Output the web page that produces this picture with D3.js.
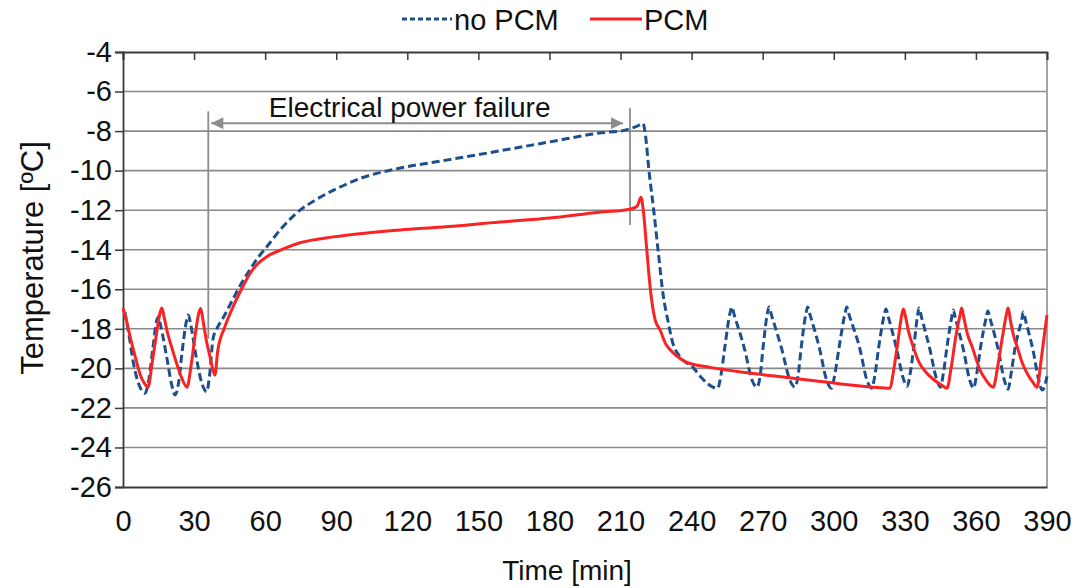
<!DOCTYPE html>
<html>
<head>
<meta charset="utf-8">
<script src="https://cdn.jsdelivr.net/npm/d3@7"></script>
<style>
  html, body { margin: 0; padding: 0; background: #fff; }
  svg { display: block; font-family: "Liberation Sans", Arial, sans-serif; }
</style>
</head>
<body>
<svg id="chart" width="1076" height="588"></svg>
<script>
// ---------------- data ----------------
const seriesNames = ["no PCM", "PCM"];
const xTicks = [0, 30, 60, 90, 120, 150, 180, 210, 240, 270, 300, 330, 360, 390];
const yTicks = [-4, -6, -8, -10, -12, -14, -16, -18, -20, -22, -24, -26];

// no PCM : [time (min), temperature (°C)]
const noPCM = [
  [0.8,-17.15],[2.5,-18.3],[4.5,-19.8],[7,-20.9],[9.3,-21.26],[11,-20.5],[12.6,-19.0],[14.2,-17.6],[14.9,-17.4],[16,-17.9],
  [18.4,-19.4],[20.5,-20.8],[22,-21.35],[23.5,-20.7],[25,-19.1],[26.8,-17.6],[27.6,-17.3],[28.6,-17.8],[31,-19.5],
  [33.4,-20.8],[35.3,-21.18],[36.6,-20.3],[38,-18.5],[40,-17.9],[42,-17.5],[46.4,-16.5],[50,-15.7],[53.6,-15.0],
  [57,-14.4],[60.7,-13.85],[67,-12.9],[74.7,-12.0],[81,-11.5],[88.7,-11.0],[100,-10.4],[117,-9.87],[135,-9.5],
  [159,-9.0],[180,-8.55],[201,-8.1],[212,-7.95],[217,-7.75],[219.5,-7.62],[220.5,-8.2],[222,-10.0],[224,-12.0],
  [226,-14.2],[228,-16.3],[230,-17.6],[232,-18.7],[235,-19.4],[240.6,-19.95],[244,-20.45],[246.5,-20.75],[249,-20.95],
  [251,-21.0],[252.3,-20.4],[254,-18.95],[256.2,-17.2],[257,-16.9],[258,-17.3],[262.3,-19.0],[265.5,-20.6],[267.6,-20.95],
  [268.9,-20.4],[270.2,-18.9],[272,-17.2],[272.7,-16.9],[273.7,-17.3],[278,-19.0],[281.5,-20.6],[283.6,-20.95],
  [284.9,-20.4],[286.3,-18.9],[288.3,-17.2],[289,-16.9],[290,-17.3],[294,-19.0],[297,-20.6],[299,-21.0],
  [300.3,-20.4],[302.3,-18.9],[304.8,-17.2],[305.5,-16.9],[306.5,-17.3],[311,-19.0],[314,-20.6],[316,-21.0],
  [317.3,-20.4],[319,-18.9],[321.3,-17.3],[322,-17.0],[323,-17.4],[326.5,-19.0],[329.3,-20.5],[331,-20.9],
  [332.2,-20.3],[333.8,-18.9],[335.4,-17.3],[336,-16.95],[337,-17.4],[340.5,-19.0],[343.3,-20.5],[345,-20.95],
  [346.2,-20.3],[347.8,-18.9],[349.8,-17.4],[350.4,-17.05],[351.4,-17.5],[354.8,-19.1],[357.4,-20.6],[359,-21.0],
  [360.3,-20.3],[362,-18.9],[364.4,-17.4],[365,-17.1],[366,-17.5],[369.5,-19.1],[372,-20.6],[373.6,-21.05],
  [374.8,-20.3],[376.6,-18.9],[379.4,-17.5],[380,-17.15],[381,-17.6],[384.3,-19.2],[386.5,-20.6],[388,-21.1],
  [389,-20.9],[390,-20.4]
];

// PCM : [time (min), temperature (°C)]
const withPCM = [
  [0,-16.95],[1.5,-17.6],[3,-18.4],[4.5,-19.1],[6,-19.8],[7.5,-20.4],[9,-20.75],[10.6,-20.95],[12.2,-19.8],[14.2,-18.2],
  [15.6,-17.2],[16.4,-16.95],[17.5,-17.5],[19,-18.3],[20.6,-18.95],[22.5,-19.7],[24.5,-20.4],[27,-20.95],[28.8,-19.8],
  [30.6,-18.2],[32,-17.2],[32.8,-16.97],[33.8,-17.6],[35.2,-18.6],[36.7,-19.4],[38,-20.1],[38.8,-20.34],[40,-19.1],
  [43,-17.9],[46.4,-16.9],[50,-16.0],[53.6,-15.2],[57,-14.7],[60.7,-14.35],[67.7,-13.96],[74.7,-13.65],[88.7,-13.35],
  [103,-13.15],[117,-13.0],[135,-12.85],[159,-12.6],[180,-12.4],[201,-12.1],[214,-11.95],[217,-11.8],[218.6,-11.35],
  [219.6,-12.0],[221,-13.9],[222.5,-15.9],[224.6,-17.55],[226.7,-18.06],[229,-18.75],[231,-19.07],[234,-19.4],
  [238,-19.7],[247.8,-19.95],[261.7,-20.2],[276,-20.4],[290,-20.6],[304,-20.8],[316.6,-20.95],[323.8,-21.0],
  [325,-20.3],[327,-18.7],[328.7,-17.3],[329.4,-17.0],[330.3,-17.4],[331.5,-18.1],[333.5,-18.9],[336,-19.7],
  [339.3,-20.25],[342.5,-20.6],[345,-20.8],[347.8,-21.0],[349.5,-20.0],[351.5,-18.4],[353.3,-17.3],[354,-16.95],
  [355,-17.5],[356.5,-18.3],[358.4,-18.9],[360,-19.5],[361.8,-20.1],[364,-20.55],[367.3,-20.95],[369.2,-19.9],
  [371.2,-18.4],[373,-17.2],[373.6,-16.95],[374.6,-17.6],[376,-18.4],[377.4,-18.9],[379.5,-19.7],[381.6,-20.25],
  [384,-20.7],[385.8,-20.95],[387.5,-19.6],[389,-18.2],[390,-17.3]
];

// annotation: power failure window
const failureLabel = "Electrical power failure";
const failureStart = 36;     // min
const failureEnd = 214;      // min
const failureTextAt = 121;   // min (label centre)
const failureArrowLevel = -7.6;
const failureTextLevel = -7.3;
const failureLineTops = [-7.0, -6.85];
const failureLineBottoms = [-18.5, -12.75];

const xTitle = "Time [min]";
const yTitle = "Temperature [ºC]";

// ---------------- layout ----------------
const W = 1076, H = 588;
const margin = { left: 123, right: 29, top: 52, bottom: 101 };
const innerW = W - margin.left - margin.right;
const innerH = H - margin.top - margin.bottom;

const svg = d3.select("#chart");
const g = svg.append("g").attr("transform", `translate(${margin.left},${margin.top})`);

const x = d3.scaleLinear().domain([0, 390]).range([0, innerW]);
const y = d3.scaleLinear().domain([-26, -4]).range([innerH, 0]);

const FONT = 28;
const gridColor = "#8a8a8a";
const axisColor = "#3a3a3a";
const blue = "#1d4f8f";
const red = "#fa2323";

// horizontal gridlines
g.append("g")
  .selectAll("line")
  .data(yTicks.filter(d => d !== -26 && d !== -4))
  .join("line")
  .attr("x1", 0).attr("x2", innerW)
  .attr("y1", d => y(d)).attr("y2", d => y(d))
  .attr("stroke", gridColor).attr("stroke-width", 1.6);

// right border
g.append("line")
  .attr("x1", innerW).attr("x2", innerW).attr("y1", 0).attr("y2", innerH)
  .attr("stroke", "#9a9a9a").attr("stroke-width", 1.8);

// top axis with inward ticks
const topAxis = d3.axisTop(x).tickValues(xTicks).tickSize(-8).tickFormat("");
const gTop = g.append("g").call(topAxis);
gTop.select(".domain").attr("stroke", axisColor).attr("stroke-width", 1.8);
gTop.selectAll(".tick line").attr("stroke", axisColor).attr("stroke-width", 1.5);

// bottom axis
const bottomAxis = d3.axisBottom(x).tickValues(xTicks).tickSize(0).tickPadding(23).tickFormat(d3.format("d"));
const gBot = g.append("g").attr("transform", `translate(0,${innerH})`).call(bottomAxis);
gBot.select(".domain").attr("stroke", axisColor).attr("stroke-width", 1.8);
gBot.selectAll("text").attr("font-size", 29).attr("fill", "#111").attr("font-family", "Liberation Sans, Arial, sans-serif");

// left axis
const leftAxis = d3.axisLeft(y).tickValues(yTicks).tickSize(8).tickPadding(3).tickFormat(d => String(d));
const gLeft = g.append("g").call(leftAxis);
gLeft.select(".domain").attr("stroke", axisColor).attr("stroke-width", 1.8);
gLeft.selectAll(".tick line").attr("stroke", axisColor).attr("stroke-width", 1.5);
gLeft.selectAll("text").attr("font-size", 29).attr("fill", "#111").attr("font-family", "Liberation Sans, Arial, sans-serif");

// annotation
const annColor = "#8c8c8c";
const defs = svg.append("defs");
defs.append("marker")
  .attr("id", "arrowEnd").attr("viewBox", "0 0 10 10").attr("refX", 10).attr("refY", 5)
  .attr("markerWidth", 7).attr("markerHeight", 6).attr("markerUnits", "strokeWidth").attr("orient", "auto-start-reverse")
  .append("path").attr("d", "M0,0 L10,5 L0,10 z").attr("fill", annColor);

const ann = g.append("g");
ann.selectAll("line.vline")
  .data([failureStart, failureEnd])
  .join("line").attr("class", "vline")
  .attr("x1", d => x(d)).attr("x2", d => x(d))
  .attr("y1", (d, i) => y(failureLineTops[i])).attr("y2", (d, i) => y(failureLineBottoms[i]))
  .attr("stroke", annColor).attr("stroke-width", 1.8);
ann.append("line")
  .attr("x1", x(failureStart) + 3).attr("x2", x(failureEnd) - 7)
  .attr("y1", y(failureArrowLevel)).attr("y2", y(failureArrowLevel))
  .attr("stroke", annColor).attr("stroke-width", 2)
  .attr("marker-start", "url(#arrowEnd)").attr("marker-end", "url(#arrowEnd)");
ann.append("text")
  .attr("x", x(failureTextAt))
  .attr("y", y(failureTextLevel))
  .attr("text-anchor", "middle")
  .attr("font-size", FONT).attr("fill", "#111")
  .text(failureLabel);

// lines
const line = d3.line().x(d => x(d[0])).y(d => y(d[1])).curve(d3.curveMonotoneX);
g.append("path").datum(noPCM)
  .attr("d", line).attr("fill", "none")
  .attr("stroke", blue).attr("stroke-width", 3).attr("stroke-dasharray", "8,4");
g.append("path").datum(withPCM)
  .attr("d", line).attr("fill", "none")
  .attr("stroke", red).attr("stroke-width", 3);

// axis titles
svg.append("text")
  .attr("x", 567).attr("y", 580)
  .attr("text-anchor", "middle").attr("font-size", FONT).attr("fill", "#111")
  .text(xTitle);
svg.append("text")
  .attr("transform", `translate(43,258) rotate(-90)`)
  .attr("text-anchor", "middle").attr("font-size", 31).attr("fill", "#111")
  .text(yTitle);

// legend
const legend = svg.append("g");
const legendItems = [
  { name: seriesNames[0], color: blue, dash: "5,3", x0: 402, x1: 452 },
  { name: seriesNames[1], color: red, dash: null, x0: 590, x1: 642 }
];
legendItems.forEach(it => {
  legend.append("line")
    .attr("x1", it.x0).attr("x2", it.x1).attr("y1", 19).attr("y2", 19)
    .attr("stroke", it.color).attr("stroke-width", 3)
    .attr("stroke-dasharray", it.dash);
  legend.append("text")
    .attr("x", it.x1 + 2).attr("y", 30)
    .attr("font-size", 29).attr("fill", "#111")
    .text(it.name);
});
</script>
</body>
</html>
